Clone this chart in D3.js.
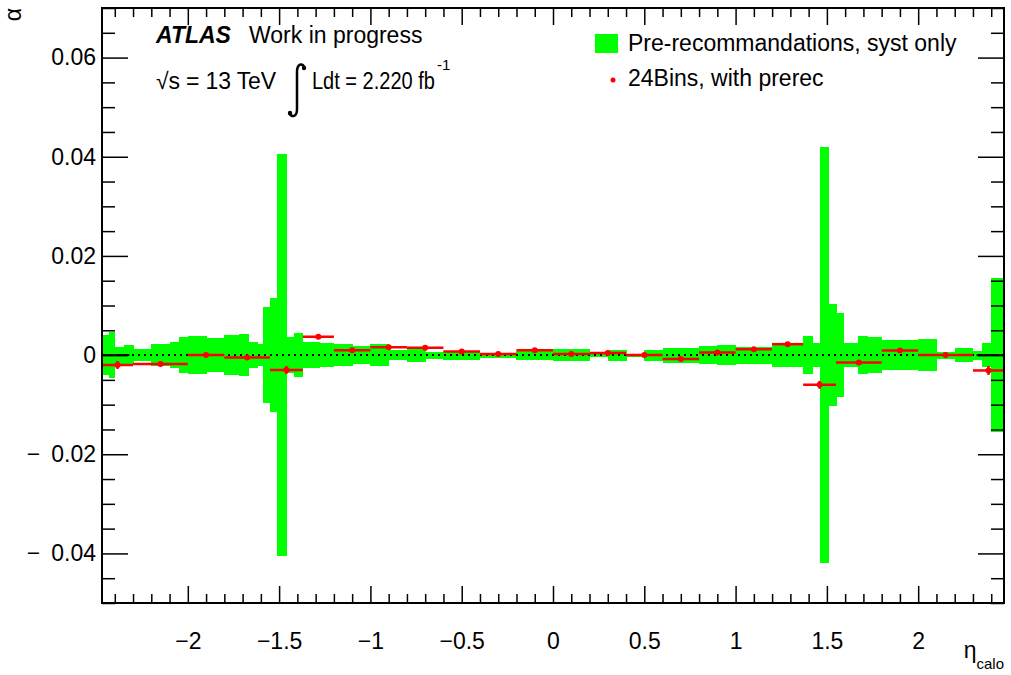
<!DOCTYPE html>
<html>
<head>
<meta charset="utf-8">
<script src="https://cdn.jsdelivr.net/npm/d3@7"></script>
<style>
  body { margin: 0; background: #fff; }
  svg { font-family: "Liberation Sans", Arial, Helvetica, sans-serif; }
</style>
</head>
<body>
<div id="chart"></div>
<script>
// green band: systematic half-width per eta bin (centred on 0)
const bandEdges = [-2.47, -2.43, -2.40, -2.35, -2.30, -2.20, -2.10, -2.05, -2.00, -1.90, -1.80,
  -1.72, -1.67, -1.62, -1.59, -1.55, -1.51, -1.46, -1.42, -1.37, -1.28, -1.20, -1.10, -1.00,
  -0.90, -0.80, -0.70, -0.60, -0.50, -0.40, -0.30, -0.20, -0.10, 0, 0.10, 0.20, 0.30, 0.40,
  0.50, 0.60, 0.70, 0.80, 0.90, 1.00, 1.10, 1.20, 1.28, 1.37, 1.42, 1.46, 1.51, 1.55, 1.59,
  1.67, 1.72, 1.80, 1.90, 2.00, 2.10, 2.20, 2.30, 2.35, 2.40, 2.47];
const bandErr = [0.0040, 0.0047, 0.0017, 0.0020, 0.0012, 0.0022, 0.0027, 0.0037, 0.0038, 0.0034,
  0.0040, 0.0042, 0.0027, 0.0022, 0.0096, 0.0115, 0.0406, 0.0036, 0.0045, 0.0026, 0.0025,
  0.0022, 0.0018, 0.0022, 0.0010, 0.0014, 0.0007, 0.0009, 0.0009, 0.0005, 0.0005, 0.0009,
  0.0010, 0.0012, 0.0012, 0.0004, 0.0011, 0.0003, 0.0011, 0.0015, 0.0015, 0.0018, 0.0020,
  0.0017, 0.0017, 0.0024, 0.0025, 0.0038, 0.0025, 0.0420, 0.0103, 0.0084, 0.0024, 0.0039,
  0.0036, 0.0030, 0.0030, 0.0032, 0.0007, 0.0014, 0.0009, 0.0025, 0.0155];

// red points: 24 bins
const ptEdges = [-2.47, -2.3, -2.0, -1.8, -1.55, -1.37, -1.2, -1.0, -0.8, -0.6, -0.4, -0.2, 0,
  0.2, 0.4, 0.6, 0.8, 1.0, 1.2, 1.37, 1.55, 1.8, 2.0, 2.3, 2.47];
const ptAlpha = [-0.0020, -0.0018, 0.0000, -0.0005, -0.0030, 0.0037, 0.0010, 0.0016, 0.0015,
  0.0007, 0.0002, 0.0010, 0.0002, 0.0004, 0.0000, -0.0008, 0.0005, 0.0012, 0.0022, -0.0060,
  -0.0015, 0.0009, 0.0000, -0.0031];
const ptErr = [0.0008, 0.0003, 0.0003, 0.0003, 0.0008, 0.0003, 0.0003, 0.0003, 0.0003, 0.0003,
  0.0003, 0.0003, 0.0003, 0.0003, 0.0003, 0.0003, 0.0003, 0.0003, 0.0003, 0.0008, 0.0003,
  0.0003, 0.0003, 0.0009];

const xMajor = [-2, -1.5, -1, -0.5, 0, 0.5, 1, 1.5, 2];
const yMajor = [-0.04, -0.02, 0, 0.02, 0.04, 0.06];

const width = 1011, height = 675;
const padL = 102, padR = 1004, padT = 8, padB = 603;
const green = "#00ff00", red = "#ff0000";

const svg = d3.select("#chart").append("svg")
  .attr("width", width).attr("height", height);

const x = d3.scaleLinear().domain([-2.47, 2.47]).range([padL, padR]);
const y = d3.scaleLinear().domain([-0.05, 0.07]).range([padB, padT]);

const fmtX = d => (d < 0 ? "\u2212" : "") + Math.abs(d);

// band
const bins = bandErr.map((e, i) => ({lo: bandEdges[i], hi: bandEdges[i + 1], e}));
svg.append("g").selectAll("rect").data(bins).enter().append("rect")
  .attr("x", d => x(d.lo))
  .attr("width", d => x(d.hi) - x(d.lo) + 0.5)
  .attr("y", d => y(d.e))
  .attr("height", d => y(-d.e) - y(d.e))
  .attr("fill", green)
  .attr("shape-rendering", "crispEdges");

// zero line
svg.append("line")
  .attr("x1", x(-2.47)).attr("x2", x(2.47)).attr("y1", y(0)).attr("y2", y(0))
  .attr("stroke", "#000").attr("stroke-width", 2).attr("stroke-dasharray", "2,4");
[[-2.47, -2.32], [2.32, 2.47]].forEach(s => {
  svg.append("line")
    .attr("x1", x(s[0])).attr("x2", x(s[1])).attr("y1", y(0)).attr("y2", y(0))
    .attr("stroke", "#000").attr("stroke-width", 2);
});

// points
const pts = ptAlpha.map((v, i) => ({lo: ptEdges[i], hi: ptEdges[i + 1], v, e: ptErr[i]}));
const gp = svg.append("g");
gp.selectAll(".hbar").data(pts).enter().append("line")
  .attr("x1", d => x(d.lo)).attr("x2", d => x(d.hi))
  .attr("y1", d => y(d.v)).attr("y2", d => y(d.v))
  .attr("stroke", red).attr("stroke-width", 2.5);
gp.selectAll(".vbar").data(pts).enter().append("line")
  .attr("x1", d => x((d.lo + d.hi) / 2)).attr("x2", d => x((d.lo + d.hi) / 2))
  .attr("y1", d => y(d.v - d.e)).attr("y2", d => y(d.v + d.e))
  .attr("stroke", red).attr("stroke-width", 2.5);
gp.selectAll("circle").data(pts).enter().append("circle")
  .attr("cx", d => x((d.lo + d.hi) / 2)).attr("cy", d => y(d.v))
  .attr("r", 3).attr("fill", red);

// axes (ticks inward, on all four sides)
const xMinor = d3.range(-24, 25).map(i => i / 10).filter(v => !xMajor.some(m => Math.abs(m - v) < 1e-6));
const yMinor = d3.range(-10, 15).map(i => +(i * 0.005).toFixed(3)).filter(v => !yMajor.some(m => Math.abs(m - v) < 1e-6));

function styleAxis(g) {
  g.select(".domain").remove();
  g.selectAll("line").attr("stroke", "#000").attr("stroke-width", 1.5);
  g.selectAll("text").attr("font-size", 23).attr("fill", "#000");
}

svg.append("g").attr("transform", `translate(0,${padB})`)
  .call(d3.axisBottom(x).tickValues(xMajor).tickSize(-17).tickPadding(30).tickFormat(fmtX)).call(styleAxis);
svg.append("g").attr("transform", `translate(0,${padB})`)
  .call(d3.axisBottom(x).tickValues(xMinor).tickSize(-9).tickFormat("")).call(styleAxis);
svg.append("g").attr("transform", `translate(0,${padT})`)
  .call(d3.axisTop(x).tickValues(xMajor).tickSize(-17).tickFormat("")).call(styleAxis);
svg.append("g").attr("transform", `translate(0,${padT})`)
  .call(d3.axisTop(x).tickValues(xMinor).tickSize(-9).tickFormat("")).call(styleAxis);

const yAxisG = svg.append("g").attr("transform", `translate(${padL},0)`)
  .call(d3.axisLeft(y).tickValues(yMajor).tickSize(-26).tickPadding(6).tickFormat(d => Math.abs(d))).call(styleAxis);
// ROOT puts a wide gap after the minus on the y labels
yAxisG.selectAll(".tick text").filter(d => d < 0)
  .each(function(d) {
    const t = d3.select(this);
    t.text(null);
    t.append("tspan").text("\u2212");
    t.append("tspan").attr("dx", 11).text(Math.abs(d));
  });
svg.append("g").attr("transform", `translate(${padL},0)`)
  .call(d3.axisLeft(y).tickValues(yMinor).tickSize(-13).tickFormat("")).call(styleAxis);
svg.append("g").attr("transform", `translate(${padR},0)`)
  .call(d3.axisRight(y).tickValues(yMajor).tickSize(-26).tickFormat("")).call(styleAxis);
svg.append("g").attr("transform", `translate(${padR},0)`)
  .call(d3.axisRight(y).tickValues(yMinor).tickSize(-13).tickFormat("")).call(styleAxis);

// frame
svg.append("rect")
  .attr("x", padL).attr("y", padT).attr("width", padR - padL).attr("height", padB - padT)
  .attr("fill", "none").attr("stroke", "#000").attr("stroke-width", 2);

// axis titles
svg.append("text")
  .attr("transform", `translate(21,${padT}) rotate(-90)`)
  .attr("text-anchor", "end").attr("font-size", 23).text("α");
const xt = svg.append("text").attr("x", padR).attr("y", 658).attr("text-anchor", "end").attr("font-size", 23);
xt.append("tspan").text("η");
xt.append("tspan").attr("font-size", 15).attr("dy", 11).text("calo");

// ATLAS label
const lab = svg.append("text").attr("x", 156).attr("y", 43).attr("font-size", 23);
lab.append("tspan").attr("font-weight", "bold").attr("font-style", "italic").text("ATLAS");
lab.append("tspan").attr("x", 249).text("Work in progress");

svg.append("text").attr("x", 156).attr("y", 89).attr("font-size", 23)
  .attr("textLength", 120).attr("lengthAdjust", "spacing").text("√s = 13 TeV");
svg.append("path")
  .attr("d", "M305,68 C302,62 297,64 297,72 L297,109 C297,117 292,118 289,113")
  .attr("fill", "none").attr("stroke", "#000").attr("stroke-width", 2.5);
svg.append("circle").attr("cx", 304).attr("cy", 68).attr("r", 2.2).attr("fill", "#000");
svg.append("circle").attr("cx", 290).attr("cy", 113).attr("r", 2.2).attr("fill", "#000");
svg.append("text").attr("transform", "translate(312,89) scale(0.87,1)").attr("font-size", 23)
  .text("Ldt = 2.220 fb");
svg.append("text").attr("x", 437).attr("y", 70).attr("font-size", 15).text("-1");

// legend
svg.append("rect").attr("x", 595).attr("y", 34).attr("width", 23).attr("height", 19).attr("fill", green);
svg.append("text").attr("x", 628).attr("y", 51).attr("font-size", 23).text("Pre-recommandations, syst only");
svg.append("circle").attr("cx", 613).attr("cy", 80).attr("r", 2.5).attr("fill", red);
svg.append("text").attr("x", 628).attr("y", 86).attr("font-size", 23).text("24Bins, with prerec");
</script>
</body>
</html>
